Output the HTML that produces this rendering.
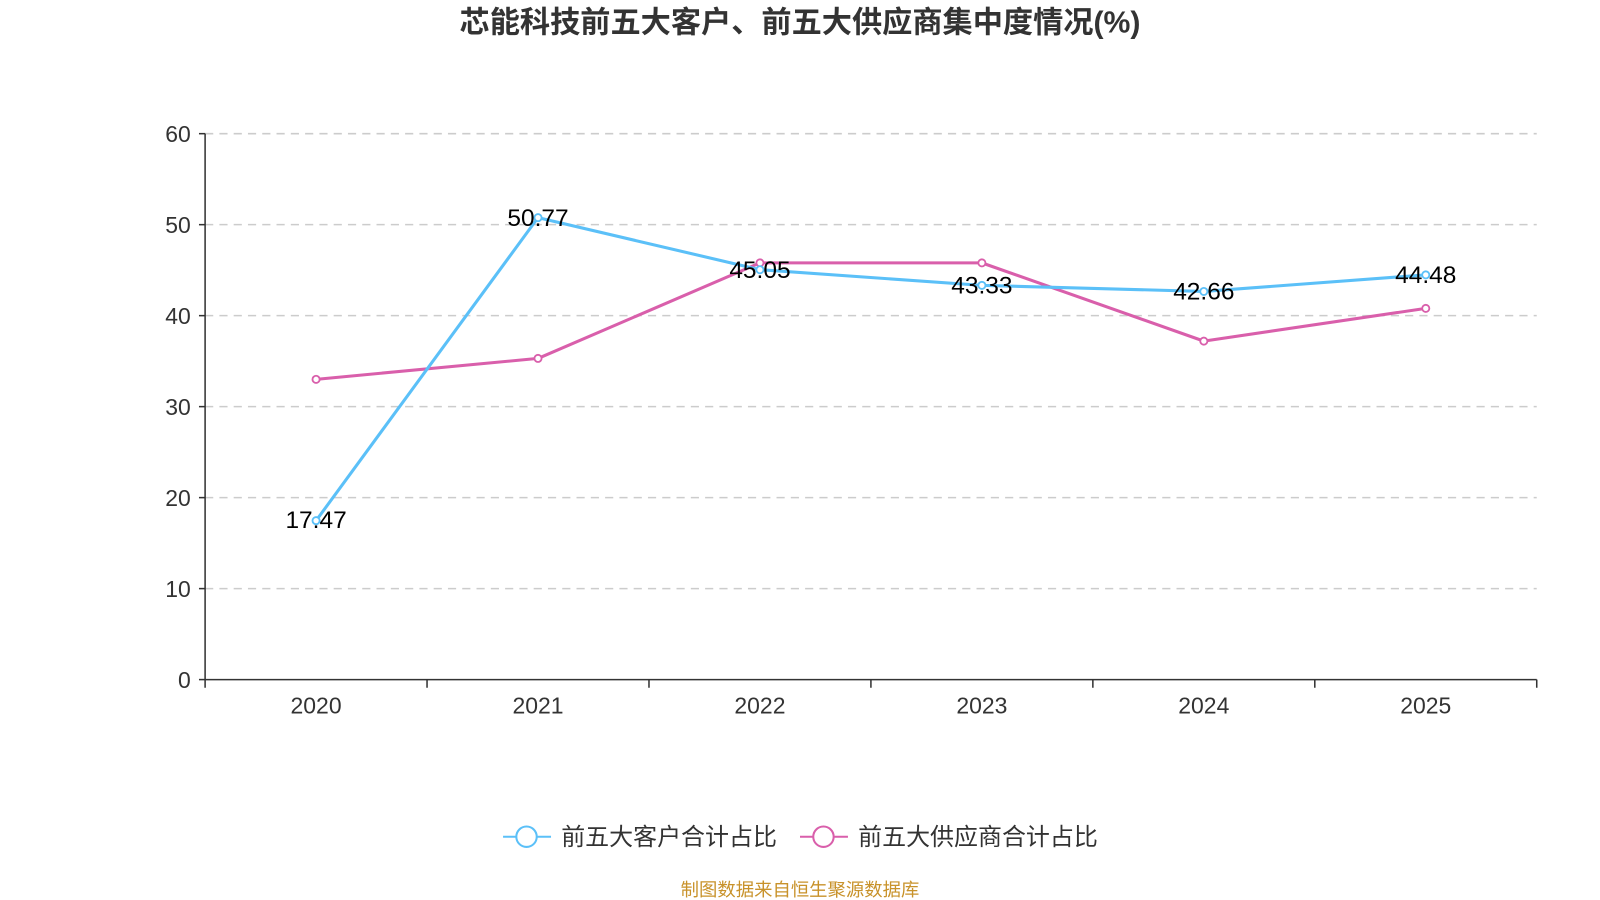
<!DOCTYPE html>
<html><head><meta charset="utf-8"><style>
html,body{margin:0;padding:0;background:#fff;}
svg{display:block;font-family:"Liberation Sans","Noto Sans CJK SC",sans-serif;}
</style></head><body>
<svg id="chart" width="1600" height="900" viewBox="0 0 1568 882">
<text x="784" y="32" text-anchor="middle" font-size="29.6" font-weight="bold" fill="#333">芯能科技前五大客户、前五大供应商集中度情况(%)</text>
<g id="grid"></g><g id="axes"></g><g id="series"></g>
<g>
<g>
<line x1="493" y1="820" x2="540" y2="820" stroke="#5bc0f8" stroke-width="2"/>
<circle cx="516" cy="820" r="10" fill="#fff" stroke="#5bc0f8" stroke-width="2"/>
<text x="550" y="828" font-size="23.5" fill="#333">前五大客户合计占比</text></g>
<g>
<line x1="784" y1="820" x2="831" y2="820" stroke="#d95fab" stroke-width="2"/>
<circle cx="807" cy="820" r="10" fill="#fff" stroke="#d95fab" stroke-width="2"/>
<text x="841" y="828" font-size="23.5" fill="#333">前五大供应商合计占比</text></g>
</g>
<text x="784" y="878" text-anchor="middle" font-size="18" fill="#c8922a">制图数据来自恒生聚源数据库</text>
</svg>
<script>
const categories=["2020","2021","2022","2023","2024","2025"];
const customerValues=[17.47,50.77,45.05,43.33,42.66,44.48];
const supplierValues=[33.0,35.3,45.8,45.8,37.2,40.8];
const yTicks=[0,10,20,30,40,50,60];
const NS="http://www.w3.org/2000/svg";
const L=201,R=1506,T=131,B=666,yMax=60;
const bw=(R-L)/categories.length;
const xS=i=>L+bw*(i+0.5);
const yS=v=>B-(v/yMax)*(B-T);
function mk(tag,attrs,parent,txt){const e=document.createElementNS(NS,tag);for(const k in attrs)e.setAttribute(k,attrs[k]);if(txt!=null)e.textContent=txt;parent.appendChild(e);return e;}
const grid=document.getElementById('grid'),axes=document.getElementById('axes'),ser=document.getElementById('series');
yTicks.forEach(t=>{
  const y=yS(t);
  if(t>0){const g=mk('line',{x1:L,x2:R,y1:y,y2:y,stroke:'#ccc','stroke-dasharray':'8,6','stroke-width':1.5},grid);
  
  }
  mk('line',{x1:L-6,x2:L,y1:y,y2:y,stroke:'#333','stroke-width':1.5},axes);
  const tx=mk('text',{x:L-14,y:y+8,'text-anchor':'end','font-size':22.5,fill:'#333'},axes,t);
  
  
});
const ya=mk('line',{x1:L,x2:L,y1:T,y2:B,stroke:'#333','stroke-width':1.5},axes);


const xa=mk('line',{x1:L,x2:R,y1:B,y2:B,stroke:'#333','stroke-width':1.5},axes);


for(let i=0;i<=categories.length;i++){const x=L+bw*i;mk('line',{x1:x,x2:x,y1:B,y2:B+8,stroke:'#333','stroke-width':1.5},axes);}
categories.forEach((c,i)=>{const t=mk('text',{x:xS(i),y:B+33,'text-anchor':'middle','font-size':22.5,fill:'#333'},axes,c);

});
function series(vals,color,name,labels){
  const p=mk('polyline',{points:vals.map((v,i)=>xS(i)+','+yS(v)).join(' '),fill:'none',stroke:color,'stroke-width':3,'stroke-linejoin':'round'},ser);
  
  
  vals.forEach((v,i)=>{const c=mk('circle',{cx:xS(i),cy:yS(v),r:3.5,fill:'#fff',stroke:color,'stroke-width':1.8},ser);
  
  });
  if(labels)vals.forEach((v,i)=>{const t=mk('text',{x:xS(i),y:yS(v)+(i===0?7:8),'text-anchor':'middle','font-size':24,fill:'#000'},ser,v.toFixed(2));
  
  });
}
series(supplierValues,'#d95fab','supplier',false);
series(customerValues,'#5bc0f8','customer',true);
</script>
</body></html>
